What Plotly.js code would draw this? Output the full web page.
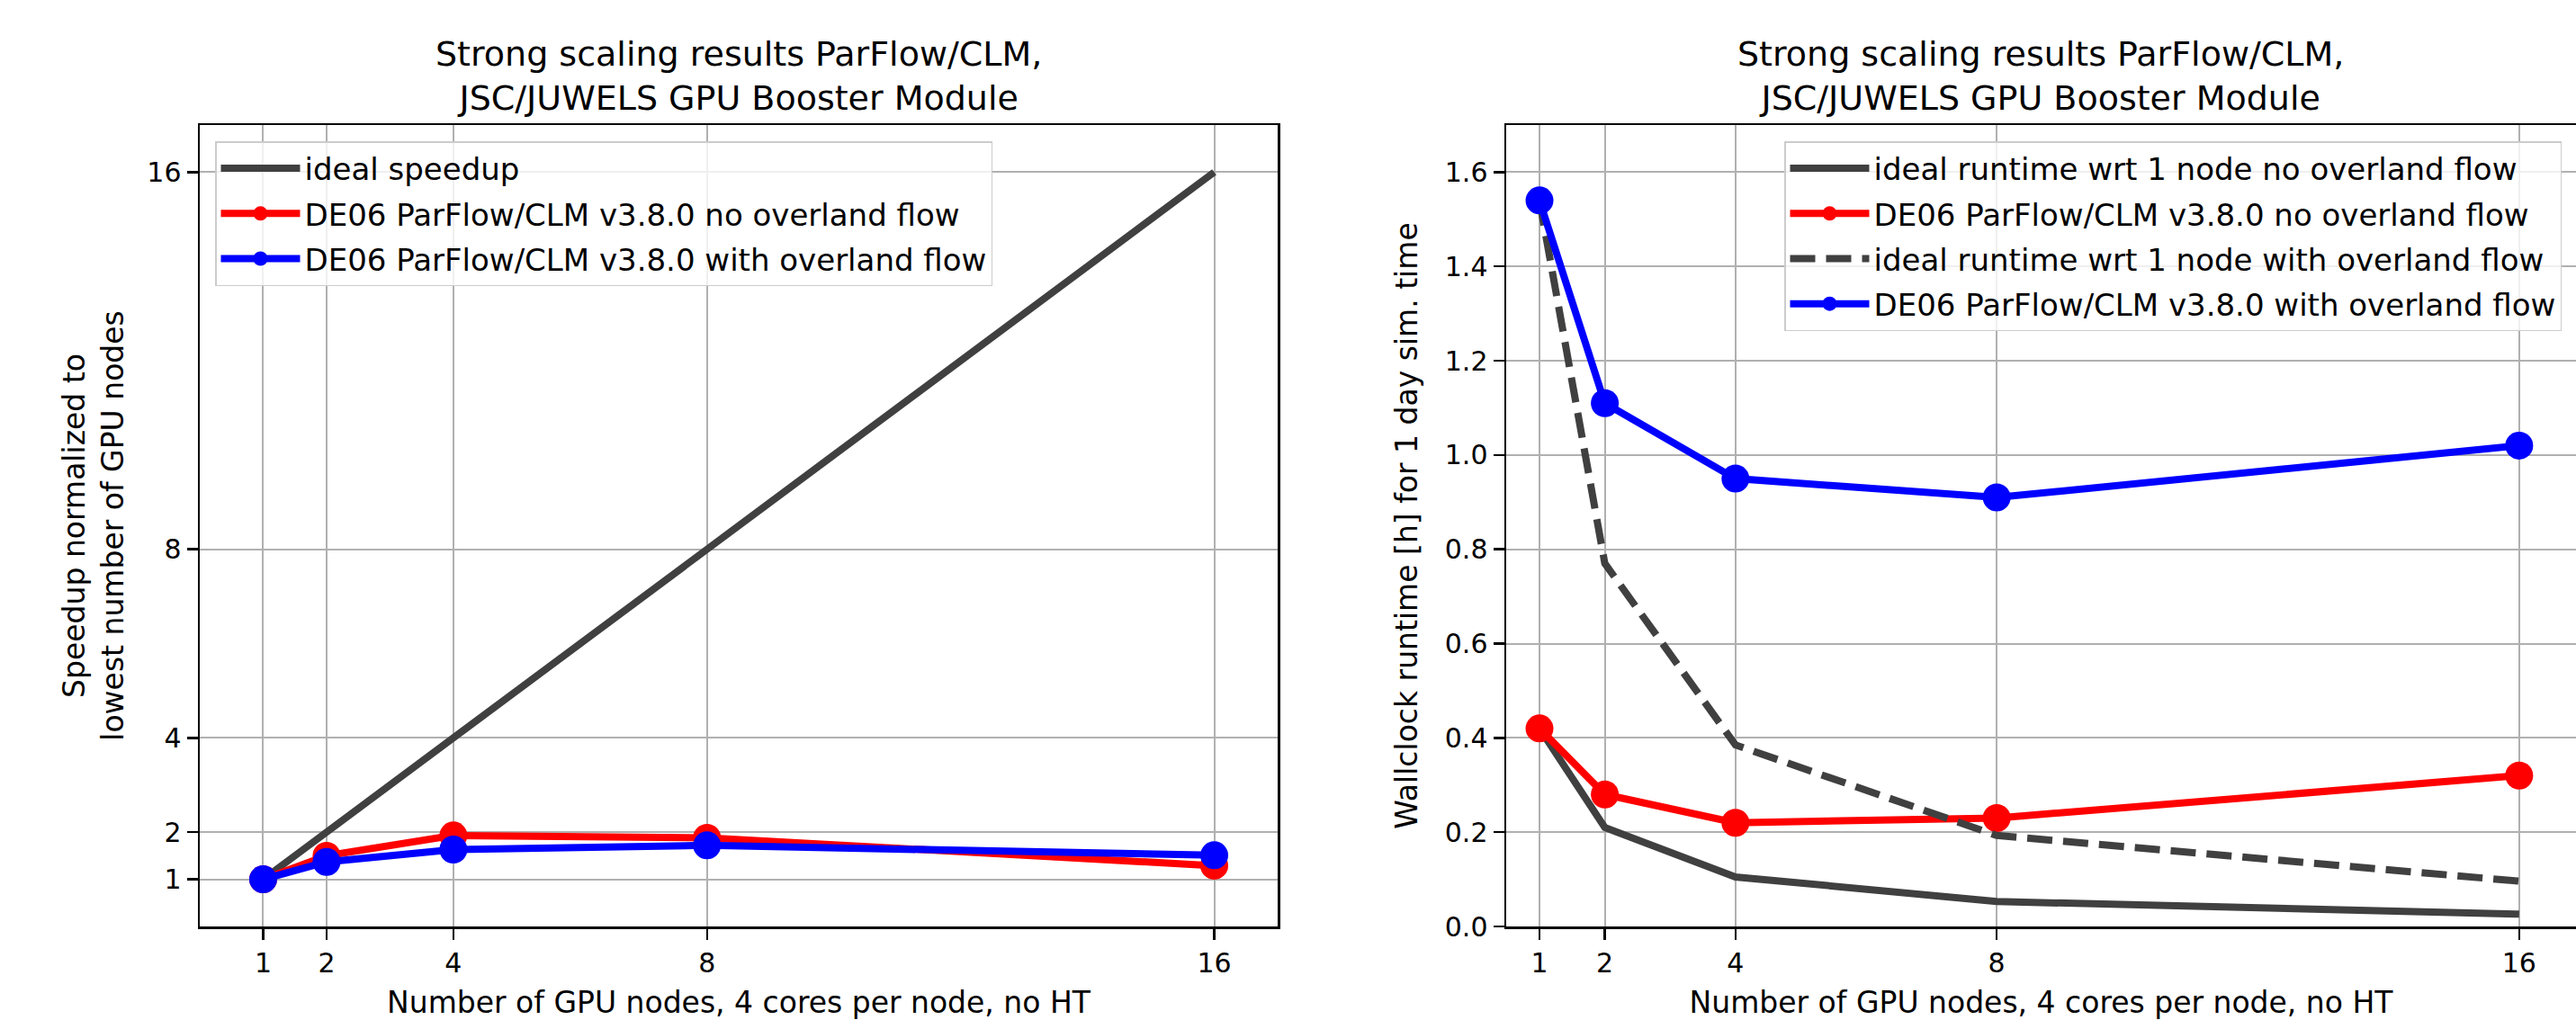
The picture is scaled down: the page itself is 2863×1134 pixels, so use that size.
<!DOCTYPE html>
<html>
<head>
<meta charset="utf-8">
<script src="https://cdn.plot.ly/plotly-3.0.1.min.js"></script>
<style>html,body{margin:0;padding:0;background:#fff;}#chart{width:2863px;height:1134px;}</style>
</head>
<body>
<div id="chart"></div>
<script>
// ---- data ----
const nodes = [1, 2, 4, 8, 16];
const tickNodes = [1, 2, 4, 8, 16];
const speedupTicks = [1, 2, 4, 8, 16];

// left panel: speedup
const idealSpeedup = [1, 2, 4, 8, 16];
const speedupNoOverland = [1, 1.5, 1.93, 1.88, 1.29];
const speedupWithOverland = [1, 1.37, 1.63, 1.72, 1.51];

// right panel: wallclock runtime [h]
const idealRuntimeNoOverland = [0.42, 0.21, 0.105, 0.053, 0.026];
const runtimeNoOverland = [0.42, 0.28, 0.22, 0.23, 0.32];
const idealRuntimeWithOverland = [1.54, 0.77, 0.385, 0.193, 0.096];
const runtimeWithOverland = [1.54, 1.11, 0.95, 0.91, 1.02];

const chartTitle = "Strong scaling results ParFlow/CLM,<br>JSC/JUWELS GPU Booster Module";
const xTitle = "Number of GPU nodes, 4 cores per node, no HT";

// ---- styles ----
const FONT = "DejaVu Sans, sans-serif";
const GRAY = "#404040";
const LW = 8;
const MS = 31;

const traces = [
  {x: nodes, y: idealSpeedup, name: "ideal speedup", mode: "lines",
   line: {color: GRAY, width: LW}, xaxis: "x", yaxis: "y", legend: "legend", legendgroup: "a1"},
  {x: nodes, y: speedupNoOverland, name: "DE06 ParFlow/CLM v3.8.0 no overland flow", mode: "lines+markers",
   line: {color: "#ff0000", width: LW}, marker: {color: "#ff0000", size: MS}, xaxis: "x", yaxis: "y", legend: "legend", legendgroup: "a2"},
  {x: nodes, y: speedupWithOverland, name: "DE06 ParFlow/CLM v3.8.0 with overland flow", mode: "lines+markers",
   line: {color: "#0000ff", width: LW}, marker: {color: "#0000ff", size: MS}, xaxis: "x", yaxis: "y", legend: "legend", legendgroup: "a3"},

  {x: nodes, y: idealRuntimeNoOverland, name: "ideal runtime wrt 1 node no overland flow", mode: "lines",
   line: {color: GRAY, width: LW}, xaxis: "x2", yaxis: "y2", legend: "legend2", legendgroup: "b1"},
  {x: nodes, y: runtimeNoOverland, name: "DE06 ParFlow/CLM v3.8.0 no overland flow", mode: "lines+markers",
   line: {color: "#ff0000", width: LW}, marker: {color: "#ff0000", size: MS}, xaxis: "x2", yaxis: "y2", legend: "legend2", legendgroup: "b2"},
  {x: nodes, y: idealRuntimeWithOverland, name: "ideal runtime wrt 1 node with overland flow", mode: "lines",
   line: {color: GRAY, width: LW, dash: "28px,12px"}, xaxis: "x2", yaxis: "y2", legend: "legend2", legendgroup: "b3"},
  {x: nodes, y: runtimeWithOverland, name: "DE06 ParFlow/CLM v3.8.0 with overland flow", mode: "lines+markers",
   line: {color: "#0000ff", width: LW}, marker: {color: "#0000ff", size: MS}, xaxis: "x2", yaxis: "y2", legend: "legend2", legendgroup: "b4"}
];

const W = 2863, H = 1134;
const px = v => v / W;
const py = v => (H - v) / H;

const axisCommon = {
  showline: true, linecolor: "#000", linewidth: 2.5,
  ticks: "outside", ticklen: 12, tickwidth: 2.5, tickcolor: "#000",
  showgrid: true, gridcolor: "#b0b0b0", gridwidth: 2,
  zeroline: false, automargin: false,
  tickfont: {family: FONT, size: 30, color: "#000"}
};

const legendCommon = {
  bgcolor: "rgba(255,255,255,0.8)", bordercolor: "#cccccc", borderwidth: 1.5,
  font: {family: FONT, size: 34, color: "#000"},
  xanchor: "left", yanchor: "top", itemclick: false,
  itemwidth: 88, tracegroupgap: 3
};

const titleFont = {family: FONT, size: 38, color: "#000"};

const layout = {
  width: W, height: H,
  margin: {l: 0, r: 0, t: 0, b: 0, pad: 0},
  paper_bgcolor: "#fff", plot_bgcolor: "#fff",
  font: {family: FONT, color: "#000"},
  xaxis: Object.assign({}, axisCommon, {
    domain: [px(222), px(1420)], range: [0, 17], tickvals: tickNodes, mirror: true, anchor: "y",
    title: {text: xTitle, font: {family: FONT, size: 33}, standoff: 17}
  }),
  yaxis: Object.assign({}, axisCommon, {
    domain: [py(1030), py(139)], range: [0, 17], tickvals: speedupTicks, mirror: true, anchor: "x",
    title: {text: "Speedup normalized to<br>lowest number of GPU nodes", font: {family: FONT, size: 33}, standoff: 16}
  }),
  xaxis2: Object.assign({}, axisCommon, {
    domain: [px(1674), 1], range: [0.49, 16.87], tickvals: tickNodes, mirror: true, anchor: "y2",
    title: {text: xTitle, font: {family: FONT, size: 33}, standoff: 17}
  }),
  yaxis2: Object.assign({}, axisCommon, {
    domain: [py(1030), py(139)], range: [0, 1.7], dtick: 0.2, tick0: 0, tickformat: ".1f", mirror: false, anchor: "x2",
    title: {text: "Wallclock runtime [h] for 1 day sim. time", font: {family: FONT, size: 33}, standoff: 20}
  }),
  legend: Object.assign({}, legendCommon, {x: px(239), y: py(157)}),
  legend2: Object.assign({}, legendCommon, {x: px(1983), y: py(157)}),
  annotations: [
    {text: chartTitle, x: px(821), y: py(84), xref: "paper", yref: "paper", xanchor: "center", yanchor: "middle", showarrow: false, font: titleFont},
    {text: chartTitle, x: px(2268), y: py(84), xref: "paper", yref: "paper", xanchor: "center", yanchor: "middle", showarrow: false, font: titleFont}
  ],
  showlegend: true
};

Plotly.newPlot("chart", traces, layout, {staticPlot: true, displayModeBar: false});
</script>
</body>
</html>
